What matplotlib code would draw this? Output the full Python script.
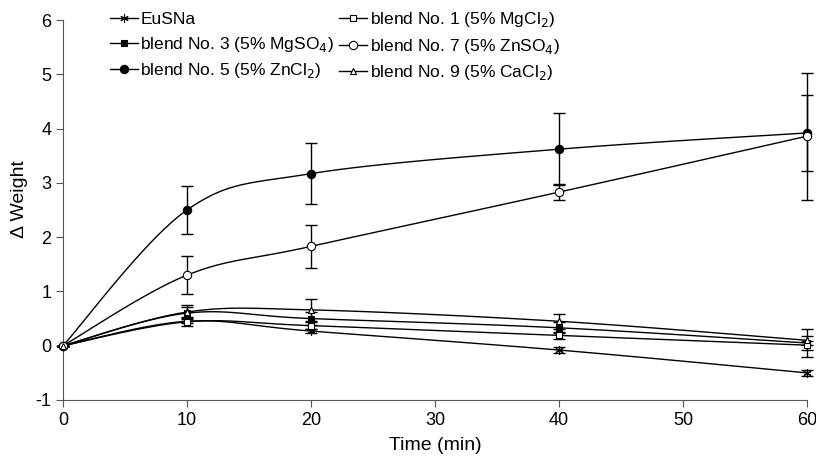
import numpy as np
import matplotlib.pyplot as plt

plt.rcParams['font.family'] = ['Liberation Sans', 'DejaVu Sans']
plt.rcParams['axes.unicode_minus'] = False

time = [0, 10, 20, 40, 60]

eusna = [0, 0.45, 0.27, -0.08, -0.50]
eusna_err = [0, 0.04, 0.04, 0.05, 0.05]
blend1 = [0, 0.44, 0.37, 0.19, 0.01]
blend1_err = [0, 0.07, 0.06, 0.06, 0.08]
blend3 = [0, 0.60, 0.50, 0.33, 0.05]
blend3_err = [0, 0.15, 0.12, 0.10, 0.25]
blend5 = [0, 2.50, 3.17, 3.62, 3.92]
blend5_err = [0, 0.45, 0.56, 0.66, 0.70]
blend7 = [0, 1.30, 1.83, 2.83, 3.86]
blend7_err = [0, 0.35, 0.39, 0.15, 1.17]
blend9 = [0, 0.62, 0.66, 0.45, 0.10]
blend9_err = [0, 0.10, 0.20, 0.14, 0.08]


def smooth(x, y, n=30):
    # Excel-style smoothed line: cubic Bezier with Catmull-Rom control points
    x = np.asarray(x, float)
    y = np.asarray(y, float)
    px, py = [], []
    for i in range(len(x) - 1):
        i0, i3 = max(i - 1, 0), min(i + 2, len(x) - 1)
        c1 = (x[i] + (x[i + 1] - x[i0]) / 6, y[i] + (y[i + 1] - y[i0]) / 6)
        c2 = (x[i + 1] - (x[i3] - x[i]) / 6, y[i + 1] - (y[i3] - y[i]) / 6)
        t = np.linspace(0, 1, n)
        bx = (1 - t)**3 * x[i] + 3 * (1 - t)**2 * t * c1[0] + 3 * (1 - t) * t**2 * c2[0] + t**3 * x[i + 1]
        by = (1 - t)**3 * y[i] + 3 * (1 - t)**2 * t * c1[1] + 3 * (1 - t) * t**2 * c2[1] + t**3 * y[i + 1]
        px.extend(bx)
        py.extend(by)
    return px, py


fig = plt.figure(figsize=(8.16, 4.62), dpi=100)
ax = fig.add_axes([0.0772, 0.1342, 0.9118, 0.8225])

series = [
    ("EuSNa", eusna, eusna_err, dict(marker=(6, 2, 0), mfc='black', ms=6)),
    ("blend No. 3 (5% MgSO$_4$)", blend3, blend3_err, dict(marker='s', mfc='black', ms=5)),
    ("blend No. 5 (5% ZnCl$_2$)", blend5, blend5_err, dict(marker='o', mfc='black', ms=6)),
    ("blend No. 1 (5% MgCl$_2$)", blend1, blend1_err, dict(marker='s', mfc='white', ms=5)),
    ("blend No. 7 (5% ZnSO$_4$)", blend7, blend7_err, dict(marker='o', mfc='white', ms=6)),
    ("blend No. 9 (5% CaCl$_2$)", blend9, blend9_err, dict(marker='^', mfc='white', ms=5)),
]

handles = []
for label, vals, err, st in series:
    sx, sy = smooth(time, vals)
    ax.plot(sx, sy, color='black', lw=1.0, zorder=2, clip_on=False)
    ax.errorbar(time, vals, yerr=err, fmt='none', ecolor='black', elinewidth=1.0,
                capsize=4, capthick=1.0, zorder=3, clip_on=False)
    ax.plot(time, vals, linestyle='none', color='black', mec='black', mew=0.8,
            zorder=4, clip_on=False, **st)
    proxy, = ax.plot([], [], color='black', lw=1.0, mec='black', mew=0.8, **st)
    handles.append(proxy)

ax.set_xlim(0, 60)
ax.set_ylim(-1, 6)
ax.set_xticks(range(0, 61, 10))
ax.set_yticks(range(-1, 7))
ax.spines['top'].set_visible(False)
ax.spines['right'].set_visible(False)
for s in ('left', 'bottom'):
    ax.spines[s].set_color('#555555')
ax.tick_params(direction='out', length=5, color='#555555', labelsize=13)
ax.set_xlabel("Time (min)", fontsize=14, labelpad=6)
ax.set_ylabel("Δ Weight", fontsize=14)
ax.yaxis.set_label_coords(-0.047, 0.53)

ax.legend(handles, [s[0] for s in series], ncol=2, frameon=False, fontsize=12.5,
          loc='upper left', bbox_to_anchor=(0.042, 1.068), handlelength=1.6,
          handletextpad=0.15, columnspacing=0.3, labelspacing=0.45)

fig.savefig("out.png", dpi=100)
